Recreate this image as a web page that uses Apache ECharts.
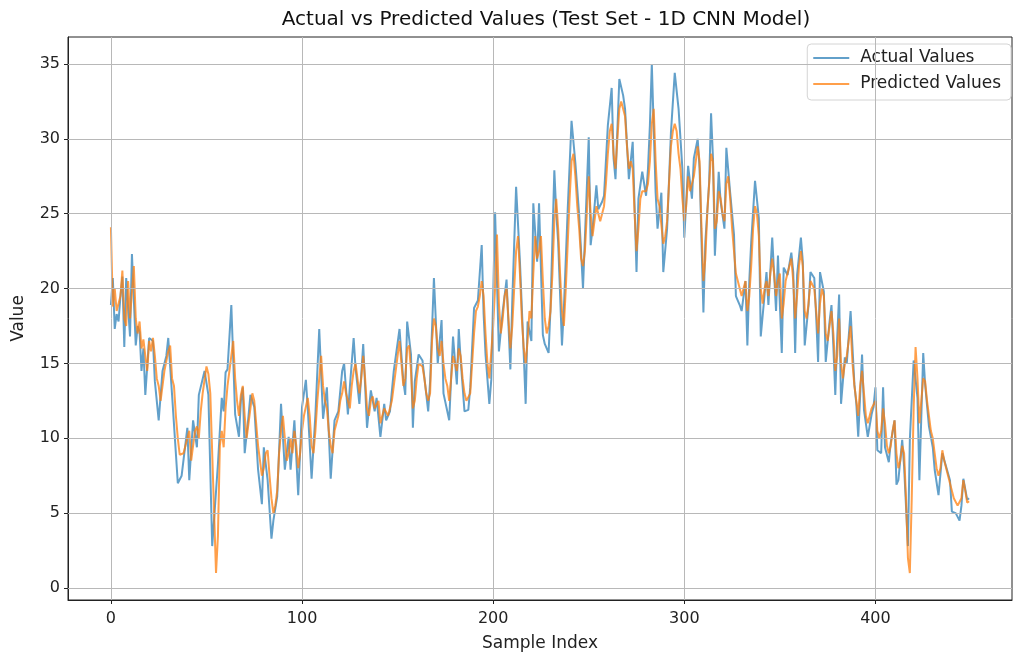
<!DOCTYPE html>
<html>
<head>
<meta charset="utf-8">
<script src="https://cdn.jsdelivr.net/npm/echarts@6/dist/echarts.min.js"></script>
<style>
  html, body { margin: 0; padding: 0; background: #fff; }
  #chart { width: 1013px; height: 658px; }
</style>
</head>
<body>
<div id="chart"></div>
<script>
// tick values
const xTicks = [0, 100, 200, 300, 400];
const yTicks = [0, 5, 10, 15, 20, 25, 30, 35];

// [sample index, value]
const actualPts = [[0,18.9],[1,20.7],[2,17.3],[3,18.3],[4,17.8],[5,19.5],[6,20.8],[7,16.1],[8,20.7],[10,16.8],[11,22.3],[13,16.2],[14,17.5],[15,17.1],[16,14.5],[17,16.0],[18,12.9],[20,16.7],[22,16.5],[23,13.8],[25,11.2],[27,14.5],[29,15.5],[30,16.7],[32,12.9],[33,12.8],[35,7.0],[37,7.5],[40,10.7],[41,7.2],[43,11.2],[45,9.4],[46,12.9],[49,14.5],[51,12.9],[53,2.8],[54,2.9],[56,8.3],[58,12.7],[59,11.8],[60,14.4],[61,14.6],[63,18.9],[65,11.6],[67,10.1],[68,12.5],[69,13.4],[70,9.0],[72,11.5],[73,12.9],[75,12.1],[77,7.9],[79,5.6],[80,9.4],[82,7.2],[84,3.3],[85,4.5],[87,6.1],[89,12.3],[91,7.9],[93,10.1],[94,7.9],[96,11.2],[98,6.2],[100,12.1],[102,13.9],[103,12.0],[105,7.3],[107,11.6],[109,17.3],[111,11.3],[113,13.4],[115,7.3],[117,11.2],[119,11.8],[121,14.5],[122,15.0],[124,11.6],[125,13.4],[127,16.7],[128,14.7],[130,12.3],[132,16.3],[134,10.7],[136,13.2],[138,11.8],[139,12.7],[141,10.1],[143,12.3],[144,11.2],[146,11.8],[148,14.5],[151,17.3],[153,13.8],[154,12.9],[155,17.8],[157,15.6],[158,10.7],[159,13.8],[161,15.6],[163,15.2],[166,11.8],[167,13.8],[169,20.7],[171,15.0],[173,17.9],[174,13.0],[175,13.0],[177,11.2],[179,16.8],[181,13.6],[182,17.3],[183,15.2],[185,11.8],[187,11.9],[188,13.4],[190,18.7],[192,19.2],[194,22.9],[195,18.3],[196,15.6],[198,12.3],[199,13.9],[201,25.1],[203,15.8],[205,18.5],[207,20.6],[209,14.6],[210,19.2],[212,26.8],[214,21.8],[216,15.6],[217,12.3],[218,17.8],[220,16.5],[221,25.7],[223,21.8],[224,25.7],[226,16.9],[227,16.3],[229,15.7],[230,18.7],[232,27.9],[233,25.1],[234,23.1],[236,16.2],[237,18.7],[239,25.3],[241,31.2],[243,28.4],[245,24.9],[247,20.0],[248,23.4],[250,30.1],[251,22.9],[252,24.0],[254,26.9],[255,25.3],[257,25.8],[258,26.2],[260,30.9],[262,33.4],[263,28.7],[264,27.3],[266,34.0],[268,32.9],[269,32.0],[271,27.3],[273,29.8],[275,21.1],[276,26.0],[278,27.8],[280,26.2],[281,28.0],[282,30.9],[283,35.0],[285,26.4],[286,24.0],[288,26.4],[289,21.1],[291,24.0],[293,30.4],[295,34.4],[297,32.0],[299,28.0],[300,23.4],[302,28.2],[304,26.0],[305,28.7],[307,30.0],[308,28.0],[310,18.4],[311,23.1],[313,27.1],[314,31.7],[315,28.7],[316,22.2],[318,27.8],[319,25.8],[321,24.0],[322,29.4],[324,26.4],[326,23.6],[327,19.5],[329,18.9],[330,18.5],[332,20.5],[333,16.2],[334,20.5],[335,23.1],[337,27.2],[339,24.7],[340,16.8],[342,19.6],[343,21.1],[344,18.9],[346,23.4],[348,18.5],[349,22.2],[351,15.7],[352,21.4],[354,20.9],[356,22.4],[357,21.1],[358,15.7],[359,20.9],[361,23.4],[362,21.8],[363,16.2],[365,18.9],[366,21.1],[368,20.7],[369,18.1],[370,15.1],[371,21.1],[373,19.8],[374,15.1],[376,17.8],[377,18.9],[378,16.1],[379,12.9],[380,16.7],[381,19.6],[382,12.3],[384,15.4],[385,15.0],[387,18.5],[389,13.6],[390,12.3],[391,10.1],[393,15.6],[394,11.9],[396,10.1],[398,11.6],[399,12.1],[400,13.4],[401,9.2],[403,9.0],[404,13.4],[405,9.4],[407,8.4],[408,9.7],[410,11.2],[411,6.9],[412,7.2],[414,9.9],[415,8.1],[417,2.8],[418,9.9],[420,15.2],[422,12.7],[423,7.2],[425,15.7],[426,13.6],[428,10.8],[430,9.4],[431,7.9],[433,6.2],[435,9.0],[437,8.1],[439,7.2],[440,5.1],[442,5.0],[444,4.5],[445,5.5],[446,7.3],[448,5.9],[449,6.0]];

const predictedPts = [[0,24.1],[1,18.8],[2,20.0],[3,18.5],[5,19.5],[6,21.2],[7,18.0],[8,17.5],[9,20.5],[10,18.0],[12,21.5],[13,18.0],[14,17.0],[15,17.8],[16,16.0],[17,16.6],[18,15.5],[19,14.5],[20,16.5],[21,15.8],[22,16.7],[23,15.5],[24,14.0],[25,13.5],[26,12.5],[28,14.5],[30,15.8],[31,16.2],[32,14.0],[33,13.5],[34,11.5],[35,10.0],[36,8.9],[38,9.0],[40,10.0],[41,10.5],[42,8.5],[44,10.5],[45,10.8],[46,10.0],[47,11.8],[48,13.0],[50,14.8],[51,14.3],[52,13.0],[53,9.0],[54,5.0],[55,1.0],[56,3.5],[57,9.5],[58,10.5],[59,9.4],[60,12.0],[61,13.5],[62,14.5],[64,16.5],[65,14.0],[66,12.5],[67,11.5],[68,12.9],[69,13.5],[70,11.5],[71,10.0],[73,12.0],[74,13.0],[75,12.5],[76,11.0],[77,9.5],[78,8.5],[79,7.5],[80,8.0],[81,9.0],[82,9.2],[83,7.5],[84,6.0],[85,5.0],[86,5.5],[87,6.5],[88,9.0],[89,10.5],[90,11.5],[91,10.0],[92,8.5],[93,9.0],[94,10.0],[95,9.0],[96,10.5],[97,9.5],[98,8.0],[99,9.0],[100,10.5],[101,11.5],[103,12.7],[104,11.5],[105,9.5],[106,9.0],[107,10.5],[108,12.5],[110,15.5],[111,13.5],[112,12.5],[113,12.0],[114,10.5],[115,9.5],[116,9.0],[117,10.5],[118,11.0],[119,11.5],[120,12.5],[121,13.0],[122,13.8],[123,13.0],[124,12.5],[125,12.0],[126,13.5],[127,14.5],[128,15.0],[129,14.0],[130,13.0],[131,14.0],[132,15.5],[133,14.0],[134,12.0],[135,11.5],[136,12.5],[137,12.8],[138,12.0],[139,12.0],[140,12.5],[141,11.0],[142,11.0],[143,12.0],[144,12.0],[145,11.5],[146,11.5],[147,12.5],[148,13.5],[149,14.5],[150,15.5],[151,16.5],[152,15.0],[153,13.5],[154,14.0],[155,16.0],[156,16.2],[157,14.5],[158,12.0],[159,12.5],[160,14.0],[161,15.0],[162,15.0],[163,14.8],[164,14.0],[165,13.0],[166,12.5],[167,13.0],[168,16.5],[169,18.0],[170,17.5],[171,16.0],[172,15.5],[173,16.5],[174,15.0],[175,14.0],[176,13.5],[177,12.5],[178,14.0],[179,15.5],[180,15.0],[181,14.5],[182,16.0],[183,15.5],[184,14.0],[185,13.0],[186,12.5],[187,12.5],[188,13.0],[189,15.0],[190,17.0],[191,18.5],[192,18.8],[193,19.5],[194,20.5],[195,19.5],[196,17.0],[197,15.0],[198,14.0],[199,14.0],[200,17.5],[201,20.0],[202,23.6],[203,19.0],[204,17.0],[205,18.0],[206,19.5],[207,20.0],[208,18.0],[209,16.0],[210,17.5],[211,20.0],[212,22.5],[213,23.5],[214,21.0],[215,18.0],[216,16.0],[217,15.0],[218,16.5],[219,18.5],[220,18.0],[221,21.0],[222,23.5],[223,22.0],[224,22.5],[225,23.5],[226,20.5],[227,18.0],[228,17.0],[229,17.5],[230,18.5],[231,21.0],[232,24.5],[233,26.0],[234,24.0],[235,21.0],[236,18.5],[237,17.5],[238,20.0],[239,23.0],[240,26.0],[241,28.5],[242,29.0],[243,27.5],[244,25.5],[245,24.0],[246,22.0],[247,21.5],[248,22.5],[249,25.0],[250,27.5],[251,25.0],[252,23.5],[253,24.5],[254,25.5],[255,25.0],[256,24.5],[257,25.0],[258,25.5],[259,27.0],[260,29.0],[261,30.5],[262,31.0],[263,29.0],[264,28.0],[265,30.0],[266,32.0],[267,32.5],[268,32.5],[269,31.5],[270,29.5],[271,28.0],[272,28.5],[273,28.0],[274,25.0],[275,22.5],[276,24.0],[277,26.0],[278,26.5],[279,26.5],[280,26.5],[281,27.0],[282,28.5],[283,31.0],[284,32.0],[285,28.5],[286,26.0],[287,25.5],[288,25.5],[289,23.0],[290,23.5],[291,24.5],[292,27.0],[293,29.5],[294,30.5],[295,31.0],[296,30.5],[297,29.0],[298,28.0],[299,26.0],[300,24.5],[301,25.5],[302,27.5],[303,26.5],[304,26.5],[305,27.5],[306,28.5],[307,29.5],[308,28.5],[309,24.0],[310,20.5],[311,22.0],[312,25.0],[313,27.0],[314,29.0],[315,28.5],[316,24.0],[317,24.5],[318,26.5],[319,26.0],[320,25.0],[321,24.5],[322,27.0],[323,27.5],[324,26.0],[325,24.0],[326,22.5],[327,21.0],[328,20.5],[329,20.0],[330,19.5],[331,20.0],[332,20.5],[333,18.5],[334,19.5],[335,21.5],[336,24.0],[337,25.5],[338,25.0],[339,23.5],[340,20.0],[341,19.0],[342,20.0],[343,20.5],[344,19.5],[345,21.0],[346,22.0],[347,21.0],[348,19.5],[349,20.5],[350,21.0],[351,18.0],[352,19.0],[353,20.5],[354,20.5],[355,21.5],[356,22.0],[357,20.5],[358,18.0],[359,19.5],[360,21.5],[361,22.5],[362,21.5],[363,18.5],[364,18.0],[365,19.0],[366,20.5],[367,20.5],[368,20.0],[369,18.5],[370,17.0],[371,19.0],[372,20.0],[373,19.5],[374,17.0],[375,16.5],[376,17.5],[377,18.5],[378,17.0],[379,14.5],[380,15.5],[381,18.0],[382,15.0],[383,14.0],[384,15.0],[385,15.5],[386,16.5],[387,17.5],[388,15.0],[389,13.5],[390,12.5],[391,11.5],[392,13.5],[393,14.5],[394,13.0],[395,11.5],[396,11.0],[397,11.5],[398,12.0],[399,12.0],[400,12.5],[401,10.5],[402,10.0],[403,10.5],[404,12.0],[405,11.0],[406,9.5],[407,9.0],[408,9.5],[409,10.5],[410,11.2],[411,9.0],[412,8.0],[413,8.5],[414,9.5],[415,9.0],[416,6.0],[417,2.0],[418,1.0],[419,6.0],[420,12.0],[421,16.1],[422,14.0],[423,11.0],[424,12.5],[425,14.0],[426,13.8],[427,12.5],[428,11.5],[429,10.5],[430,10.0],[431,9.0],[432,8.0],[433,7.5],[434,8.0],[435,9.2],[436,8.5],[437,8.0],[438,7.5],[439,7.0],[440,6.5],[441,6.0],[442,6.0],[443,5.5],[444,5.5],[445,6.0],[446,7.2],[447,6.5],[448,5.7],[449,5.8]];

const font = 'DejaVu Sans';
let chart = echarts.init(document.getElementById('chart'), null, {renderer: 'canvas'});

// grid lines drawn as markLines so they sit on the real tick values
let gridLines = xTicks.map(v => ({xAxis: v})).concat(yTicks.map(v => ({yAxis: v})));

var options = {
  backgroundColor: '#ffffff',
  animation: false,
  title: {
    text: 'Actual vs Predicted Values (Test Set - 1D CNN Model)',
    left: 541,
    textAlign: 'center',
    top: 5,
    textStyle: {fontFamily: font, fontSize: 20, fontWeight: 'normal', color: '#111'}
  },
  legend: {
    orient: 'vertical',
    right: 2,
    top: 44,
    padding: [4, 10, 6, 6],
    itemWidth: 36,
    itemHeight: 2,
    itemGap: 6,
    icon: 'rect',
    backgroundColor: 'rgba(255,255,255,0.85)',
    borderColor: '#d4d4d4',
    borderWidth: 1,
    borderRadius: 4,
    textStyle: {fontFamily: font, fontSize: 17, lineHeight: 20, color: '#222', padding: [0, 0, 0, 6]},
    data: ['Actual Values', 'Predicted Values']
  },
  grid: {
    left: 68, right: 1, top: 37, bottom: 58,
    show: true, borderColor: '#222', borderWidth: 1
  },
  xAxis: {
    type: 'value',
    min: -22.45,
    max: 471.45,
    name: 'Sample Index',
    nameLocation: 'middle',
    nameGap: 35,
    nameTextStyle: {fontFamily: font, fontSize: 17, color: '#222'},
    axisLine: {show: true, onZero: false, lineStyle: {color: '#222'}},
    axisTick: {show: true, length: 4, customValues: xTicks, lineStyle: {color: '#222'}},
    axisLabel: {customValues: xTicks, fontFamily: font, fontSize: 16, color: '#222', margin: 11},
    splitLine: {show: false}
  },
  yAxis: {
    type: 'value',
    min: -0.8,
    max: 36.8,
    name: 'Value',
    nameLocation: 'middle',
    nameGap: 41,
    nameTextStyle: {fontFamily: font, fontSize: 17, color: '#222'},
    axisLine: {show: true, onZero: false, lineStyle: {color: '#222'}},
    axisTick: {show: true, length: 4, customValues: yTicks, lineStyle: {color: '#222'}},
    axisLabel: {customValues: yTicks, fontFamily: font, fontSize: 16, color: '#222', margin: 8},
    splitLine: {show: false}
  },
  series: [
    {
      name: 'grid',
      type: 'line',
      data: [],
      silent: true,
      z: 1,
      markLine: {
        silent: true,
        symbol: ['none', 'none'],
        label: {show: false},
        lineStyle: {color: '#b8b8b8', width: 1, type: 'solid'},
        emphasis: {disabled: true},
        data: gridLines
      }
    },
    {
      name: 'Actual Values',
      type: 'line',
      data: actualPts,
      showSymbol: false,
      symbol: 'none',
      z: 3,
      color: 'rgba(31,119,180,0.7)',
      lineStyle: {width: 2, color: 'rgba(31,119,180,0.7)'}
    },
    {
      name: 'Predicted Values',
      type: 'line',
      data: predictedPts,
      showSymbol: false,
      symbol: 'none',
      z: 4,
      color: 'rgba(255,127,14,0.75)',
      lineStyle: {width: 2, color: 'rgba(255,127,14,0.75)'}
    }
  ]
};
chart.setOption(options);
</script>
</body>
</html>
